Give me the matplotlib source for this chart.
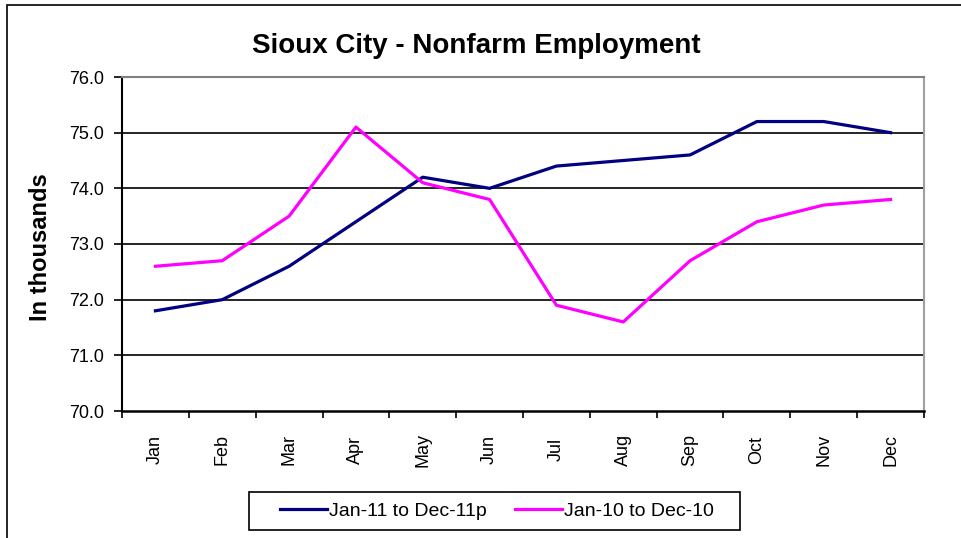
import matplotlib
matplotlib.use('Agg')
import matplotlib.pyplot as plt
from matplotlib.patches import Rectangle

plt.rcParams['font.family'] = ['Liberation Sans', 'DejaVu Sans']

months = ['Jan', 'Feb', 'Mar', 'Apr', 'May', 'Jun',
          'Jul', 'Aug', 'Sep', 'Oct', 'Nov', 'Dec']
emp_2011 = [71.8, 72.0, 72.6, 73.4, 74.2, 74.0, 74.4, 74.5, 74.6, 75.2, 75.2, 75.0]
emp_2010 = [72.6, 72.7, 73.5, 75.1, 74.1, 73.8, 71.9, 71.6, 72.7, 73.4, 73.7, 73.8]
yticks = [70.0, 71.0, 72.0, 73.0, 74.0, 75.0, 76.0]

W, H = 961, 538
fig = plt.figure(figsize=(W / 100, H / 100), dpi=100)
ax = fig.add_axes([122 / W, 1 - 411 / H, 802 / W, 334 / H])

# outer chart frame (only left/top visible in the picture)
fig.patches.append(Rectangle((7 / W, -0.1), 1.2, 1 - 5 / H + 0.1, transform=fig.transFigure,
                             fill=False, edgecolor='black', linewidth=1.2))

x = range(len(months))
ax.plot(x, emp_2011, color='#000080', linewidth=2.3, label='Jan-11 to Dec-11p')
ax.plot(x, emp_2010, color='#ff00ff', linewidth=2.3, label='Jan-10 to Dec-10')

ax.set_xlim(-0.5, 11.5)
ax.set_ylim(70, 76)
ax.set_yticks(yticks)
ax.set_yticklabels(['%.1f' % v for v in yticks], fontsize=13)
ax.set_xticks(list(x))
ax.set_xticklabels(months, rotation=90, fontsize=13, va='center')
ax.set_xticks([i - 0.5 for i in range(13)], minor=True)
ax.tick_params(axis='x', which='major', length=0, pad=28)
ax.tick_params(axis='x', which='minor', length=5, width=1.2, direction='out')
ax.tick_params(axis='y', length=6, width=1.2, direction='out', pad=7)

for v in yticks[1:-1]:
    ax.axhline(v, color='black', linewidth=1.2, zorder=1)

ax.spines['left'].set_linewidth(1.5)
ax.spines['bottom'].set_linewidth(1.8)
ax.spines['top'].set_color('#808080')
ax.spines['right'].set_color('#a0a0a0')
ax.spines['top'].set_linewidth(1.5)
ax.spines['right'].set_linewidth(1.5)

fig.text(476 / W, 1 - 46 / H, 'Sioux City - Nonfarm Employment', fontsize=20,
         fontweight='bold', ha='center', va='center')
fig.text(41 / W, 1 - 247 / H, 'In thousands', fontsize=17, fontweight='bold',
         rotation=90, ha='center', va='center')

# legend box
fig.patches.append(Rectangle((249 / W, 1 - 530 / H), 491 / W, 38 / H, transform=fig.transFigure,
                             fill=False, edgecolor='black', linewidth=1.2))
ax.legend(loc='center', bbox_to_anchor=(497 / W, 1 - 511 / H), bbox_transform=fig.transFigure,
          ncol=2, frameon=False, fontsize=14,
          handlelength=2.4, handletextpad=0.1, columnspacing=1.45, borderpad=0.3)

fig.savefig('out.png', dpi=100)
